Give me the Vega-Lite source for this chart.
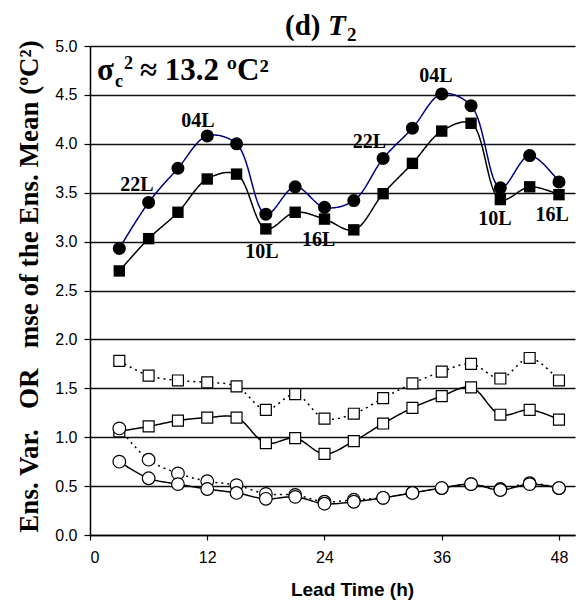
{
  "$schema": "https://vega.github.io/schema/vega-lite/v6.json",
  "width": 485,
  "height": 489,
  "autosize": "none",
  "padding": {"left": 90, "top": 46, "right": 11, "bottom": 71},
  "background": "white",
  "config": {"view": {"stroke": null}},
  "datasets": {
    "series": [
      {"h":3,"s":"mseA","v":2.93},{"h":6,"s":"mseA","v":3.40},{"h":9,"s":"mseA","v":3.75},{"h":12,"s":"mseA","v":4.08},{"h":15,"s":"mseA","v":4.00},{"h":18,"s":"mseA","v":3.28},{"h":21,"s":"mseA","v":3.56},{"h":24,"s":"mseA","v":3.35},{"h":27,"s":"mseA","v":3.42},{"h":30,"s":"mseA","v":3.85},{"h":33,"s":"mseA","v":4.16},{"h":36,"s":"mseA","v":4.51},{"h":39,"s":"mseA","v":4.39},{"h":42,"s":"mseA","v":3.55},{"h":45,"s":"mseA","v":3.88},{"h":48,"s":"mseA","v":3.61},
      {"h":3,"s":"mseB","v":2.70},{"h":6,"s":"mseB","v":3.03},{"h":9,"s":"mseB","v":3.30},{"h":12,"s":"mseB","v":3.64},{"h":15,"s":"mseB","v":3.69},{"h":18,"s":"mseB","v":3.13},{"h":21,"s":"mseB","v":3.30},{"h":24,"s":"mseB","v":3.23},{"h":27,"s":"mseB","v":3.12},{"h":30,"s":"mseB","v":3.49},{"h":33,"s":"mseB","v":3.80},{"h":36,"s":"mseB","v":4.13},{"h":39,"s":"mseB","v":4.21},{"h":42,"s":"mseB","v":3.43},{"h":45,"s":"mseB","v":3.56},{"h":48,"s":"mseB","v":3.48},
      {"h":3,"s":"sqDot","v":1.78},{"h":6,"s":"sqDot","v":1.63},{"h":9,"s":"sqDot","v":1.58},{"h":12,"s":"sqDot","v":1.56},{"h":15,"s":"sqDot","v":1.52},{"h":18,"s":"sqDot","v":1.28},{"h":21,"s":"sqDot","v":1.44},{"h":24,"s":"sqDot","v":1.19},{"h":27,"s":"sqDot","v":1.24},{"h":30,"s":"sqDot","v":1.40},{"h":33,"s":"sqDot","v":1.55},{"h":36,"s":"sqDot","v":1.67},{"h":39,"s":"sqDot","v":1.75},{"h":42,"s":"sqDot","v":1.60},{"h":45,"s":"sqDot","v":1.81},{"h":48,"s":"sqDot","v":1.58},
      {"h":3,"s":"sqSolid","v":1.06},{"h":6,"s":"sqSolid","v":1.11},{"h":9,"s":"sqSolid","v":1.17},{"h":12,"s":"sqSolid","v":1.20},{"h":15,"s":"sqSolid","v":1.20},{"h":18,"s":"sqSolid","v":0.94},{"h":21,"s":"sqSolid","v":0.99},{"h":24,"s":"sqSolid","v":0.83},{"h":27,"s":"sqSolid","v":0.96},{"h":30,"s":"sqSolid","v":1.14},{"h":33,"s":"sqSolid","v":1.30},{"h":36,"s":"sqSolid","v":1.42},{"h":39,"s":"sqSolid","v":1.51},{"h":42,"s":"sqSolid","v":1.23},{"h":45,"s":"sqSolid","v":1.28},{"h":48,"s":"sqSolid","v":1.18},
      {"h":3,"s":"ciDot","v":1.09},{"h":6,"s":"ciDot","v":0.77},{"h":9,"s":"ciDot","v":0.63},{"h":12,"s":"ciDot","v":0.55},{"h":15,"s":"ciDot","v":0.51},{"h":18,"s":"ciDot","v":0.42},{"h":21,"s":"ciDot","v":0.41},{"h":24,"s":"ciDot","v":0.34},{"h":27,"s":"ciDot","v":0.36},{"h":30,"s":"ciDot","v":0.38},{"h":33,"s":"ciDot","v":0.43},{"h":36,"s":"ciDot","v":0.48},{"h":39,"s":"ciDot","v":0.52},{"h":42,"s":"ciDot","v":0.47},{"h":45,"s":"ciDot","v":0.53},{"h":48,"s":"ciDot","v":0.48},
      {"h":3,"s":"ciSolid","v":0.75},{"h":6,"s":"ciSolid","v":0.58},{"h":9,"s":"ciSolid","v":0.52},{"h":12,"s":"ciSolid","v":0.47},{"h":15,"s":"ciSolid","v":0.43},{"h":18,"s":"ciSolid","v":0.37},{"h":21,"s":"ciSolid","v":0.39},{"h":24,"s":"ciSolid","v":0.32},{"h":27,"s":"ciSolid","v":0.34},{"h":30,"s":"ciSolid","v":0.38},{"h":33,"s":"ciSolid","v":0.43},{"h":36,"s":"ciSolid","v":0.48},{"h":39,"s":"ciSolid","v":0.52},{"h":42,"s":"ciSolid","v":0.46},{"h":45,"s":"ciSolid","v":0.52},{"h":48,"s":"ciSolid","v":0.48}
    ],
    "labels": [
      {"h":4.81,"v":3.58,"t":"22L"},{"h":11.05,"v":4.23,"t":"04L"},{"h":17.6,"v":2.89,"t":"10L"},{"h":23.4,"v":3.02,"t":"16L"},
      {"h":28.6,"v":4.02,"t":"22L"},{"h":35.4,"v":4.69,"t":"04L"},{"h":41.45,"v":3.23,"t":"10L"},{"h":47.3,"v":3.27,"t":"16L"}
    ],
    "anchor": [{"h":0.72,"v":4.652}],
    "ttl": [{"h":19.96,"v":5.112}]
  },
  "encoding": {
    "x": {"field":"h","type":"quantitative","scale":{"domain":[0,49.64],"nice":false,"zero":false},
      "axis":{"values":[0,12,24,36,48],"title":"Lead Time (h)","grid":false,"tickSize":5,"tickColor":"black","tickWidth":1.2,
        "domainColor":"black","domainWidth":1.5,"labelFont":"Liberation Sans","labelFontSize":16,"labelColor":"black","labelPadding":9,
        "titleFont":"Liberation Sans","titleFontSize":19,"titleFontWeight":"bold","titleColor":"black","titleX":262,"titleY":60,"titleBaseline":"alphabetic"}},
    "y": {"field":"v","type":"quantitative","scale":{"domain":[0,5],"nice":false},
      "axis":{"values":[0,0.5,1,1.5,2,2.5,3,3.5,4,4.5,5],"format":".1f","grid":true,"gridColor":"#111111","gridWidth":1.4,
        "tickSize":6,"tickColor":"black","tickWidth":1.2,"domainColor":"black","domainWidth":1.5,
        "labelFont":"Liberation Sans","labelFontSize":16,"labelColor":"black","labelPadding":7,
        "title":"Ens. Var.\u00a0\u00a0\u00a0OR\u00a0\u00a0\u00a0mse of the Ens. Mean (ºC²)","titleFont":"Liberation Serif","titleFontSize":27,"titleFontWeight":"bold","titleColor":"black",
        "titleX":-61,"titleY":240,"titleBaseline":"middle","titleAngle":-90}}
  },
  "layer": [
    {"data":{"name":"series"},
     "mark":{"type":"line","interpolate":"catmull-rom","strokeWidth":1.5},
     "encoding":{
       "detail":{"field":"s"},
       "color":{"field":"s","type":"nominal","legend":null,"scale":{"domain":["mseA","mseB","sqDot","sqSolid","ciDot","ciSolid"],"range":["#00007f","black","black","black","black","black"]}},
       "strokeDash":{"field":"s","type":"nominal","legend":null,"scale":{"domain":["mseA","mseB","sqDot","sqSolid","ciDot","ciSolid"],"range":[[1,0],[1,0],[2,4],[1,0],[2,4],[1,0]]}}
     }},
    {"data":{"name":"series"},"transform":[{"filter":"datum.s=='mseB'"}],
     "mark":{"type":"point","shape":"square","filled":true,"color":"black","size":130,"opacity":1}},
    {"data":{"name":"series"},"transform":[{"filter":"datum.s=='mseA'"}],
     "mark":{"type":"point","shape":"circle","filled":true,"color":"black","size":170,"opacity":1}},
    {"data":{"name":"series"},"transform":[{"filter":"datum.s=='sqDot' || datum.s=='sqSolid'"}],
     "mark":{"type":"point","shape":"square","filled":true,"fill":"white","stroke":"black","strokeWidth":1.2,"size":120,"opacity":1}},
    {"data":{"name":"series"},"transform":[{"filter":"datum.s=='ciSolid' || datum.s=='ciDot'"}],
     "mark":{"type":"point","shape":"circle","filled":true,"fill":"white","stroke":"black","strokeWidth":1.2,"size":160,"opacity":1}},
    {"data":{"name":"labels"},
     "mark":{"type":"text","font":"Liberation Serif","fontWeight":"bold","fontSize":20,"color":"black","align":"center","baseline":"middle"},
     "encoding":{"text":{"field":"t"}}},
    {"data":{"name":"anchor"},
     "mark":{"type":"text","text":"σ","font":"Liberation Serif","fontWeight":"bold","fontSize":31,"color":"black","align":"left","baseline":"alphabetic"}},
    {"data":{"name":"anchor"},
     "mark":{"type":"text","text":"c","font":"Liberation Serif","fontWeight":"bold","fontSize":18,"color":"black","align":"left","baseline":"alphabetic","dx":18,"dy":7}},
    {"data":{"name":"anchor"},
     "mark":{"type":"text","text":"2","font":"Liberation Serif","fontWeight":"bold","fontSize":18,"color":"black","align":"left","baseline":"alphabetic","dx":27,"dy":-11}},
    {"data":{"name":"anchor"},
     "mark":{"type":"text","text":"≈ 13.2 ºC²","font":"Liberation Serif","fontWeight":"bold","fontSize":31,"color":"black","align":"left","baseline":"alphabetic","dx":43}},
    {"data":{"name":"ttl"},
     "mark":{"type":"text","text":"(d)","font":"Liberation Serif","fontWeight":"bold","fontSize":29,"color":"black","align":"left","baseline":"alphabetic"}},
    {"data":{"name":"ttl"},
     "mark":{"type":"text","text":"T","font":"Liberation Serif","fontWeight":"bold","fontStyle":"italic","fontSize":29,"color":"black","align":"left","baseline":"alphabetic","dx":43}},
    {"data":{"name":"ttl"},
     "mark":{"type":"text","text":"2","font":"Liberation Serif","fontWeight":"bold","fontSize":19,"color":"black","align":"left","baseline":"alphabetic","dx":62,"dy":6}}
  ]
}
